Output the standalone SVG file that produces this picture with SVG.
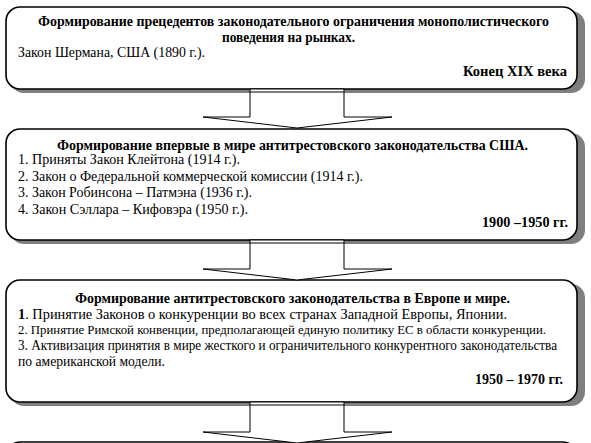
<svg xmlns="http://www.w3.org/2000/svg" width="591" height="443" viewBox="0 0 591 443">
<style>
.sh{fill:#7f7f7f;stroke:none}
.bx{fill:#fff;stroke:#000;stroke-width:1.6}
.ar{fill:#fff;stroke:#000;stroke-width:1}
.ln{stroke:#000;stroke-width:1.2}
.t{font-family:"Liberation Serif",serif;font-size:14px;fill:#000}
.b{font-weight:bold}
</style>
<rect width="591" height="443" fill="#fff"/>
<g id="node1" class="t" font-family="Liberation Serif, serif">
<rect class="sh" x="10" y="11" width="575" height="82" rx="14"/>
<rect class="bx" x="6" y="7" width="571" height="82" rx="14"/>
<text class="b" x="38" y="26" textLength="511" lengthAdjust="spacingAndGlyphs">Формирование прецедентов законодательного ограничения монополистического</text>
<text class="b" x="222" y="42" textLength="133" lengthAdjust="spacingAndGlyphs">поведения на рынках.</text>
<text x="18" y="57" textLength="187" lengthAdjust="spacingAndGlyphs">Закон Шермана, США (1890 г.).</text>
<text class="b" x="463" y="76" textLength="104" lengthAdjust="spacingAndGlyphs">Конец XIX века</text>
</g>
<g id="node2" class="t" font-family="Liberation Serif, serif">
<rect class="sh" x="10" y="133" width="575" height="111" rx="14"/>
<rect class="bx" x="6" y="129" width="571" height="111" rx="14"/>
<text class="b" x="57" y="150" textLength="471" lengthAdjust="spacingAndGlyphs">Формирование впервые в мире антитрестовского законодательства США.</text>
<text x="18" y="164" textLength="222" lengthAdjust="spacingAndGlyphs">1. Приняты Закон Клейтона (1914 г.).</text>
<text x="18" y="181" textLength="345" lengthAdjust="spacingAndGlyphs">2. Закон о Федеральной коммерческой комиссии (1914 г.).</text>
<text x="18" y="197" textLength="234" lengthAdjust="spacingAndGlyphs">3. Закон Робинсона – Патмэна (1936 г.).</text>
<text x="18" y="214" textLength="230" lengthAdjust="spacingAndGlyphs">4. Закон Сэллара – Кифовэра (1950 г.).</text>
<text class="b" x="482" y="227" textLength="86" lengthAdjust="spacingAndGlyphs">1900 –1950 гг.</text>
</g>
<g id="node3" class="t" font-family="Liberation Serif, serif">
<rect class="sh" x="10" y="284" width="575" height="122" rx="14"/>
<rect class="bx" x="6" y="280" width="571" height="122" rx="14"/>
<text class="b" x="75" y="303" textLength="435" lengthAdjust="spacingAndGlyphs">Формирование антитрестовского законодательства в Европе и мире.</text>
<text x="18" y="319" textLength="489" lengthAdjust="spacingAndGlyphs"><tspan class="b">1</tspan>. Принятие Законов о конкуренции во всех странах Западной Европы, Японии.</text>
<text x="18" y="334" font-size="12.5" style="font-size:12.5px" textLength="528" lengthAdjust="spacingAndGlyphs">2. Принятие Римской конвенции, предполагающей единую политику ЕС в области конкуренции.</text>
<text x="18" y="350" textLength="539" lengthAdjust="spacingAndGlyphs">3. Активизация принятия в мире жесткого и ограничительного конкурентного законодательства</text>
<text x="18" y="366" textLength="147" lengthAdjust="spacingAndGlyphs">по американской модели.</text>
<text class="b" x="475" y="384" textLength="88" lengthAdjust="spacingAndGlyphs">1950 – 1970 гг.</text>
</g>
<g id="node4">
<rect class="sh" x="10" y="446" width="575" height="60" rx="14"/>
<rect class="bx" x="6" y="442" width="571" height="60" rx="14"/>
</g>
<g id="connectors">
<polygon class="ar" points="250,89 344,89 344,117 392,117 297,128 203,117 250,117"/>
<line class="ln" x1="250" y1="92" x2="344" y2="92"/>
<polygon class="ar" points="250,240 344,240 344,269 392,269 297,280 203,269 250,269"/>
<line class="ln" x1="250" y1="243" x2="344" y2="243"/>
<polygon class="ar" points="250,402 344,402 344,432 392,432 297,443 203,432 250,432"/>
<line class="ln" x1="250" y1="405" x2="344" y2="405"/>
</g>
</svg>
